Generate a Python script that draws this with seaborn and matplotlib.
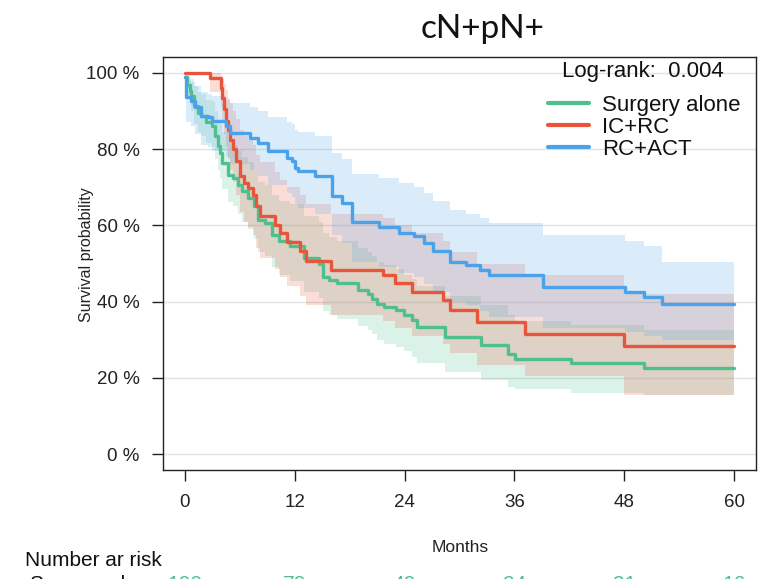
import matplotlib
matplotlib.use("Agg")
import matplotlib.pyplot as plt
import matplotlib.transforms as mtransforms
from matplotlib.lines import Line2D
from matplotlib.ticker import FuncFormatter
import numpy as np
import pandas as pd
import seaborn as sns

# ---------------- data (% survival) ----------------
groups = ["Surgery alone", "IC+RC", "RC+ACT"]
colors = ["#4fbf8e", "#e8553b", "#4aa3ea"]

surg_t = [0, 0.2, 0.5, 0.7, 1.0, 1.4, 1.8, 2.3, 2.9, 3.3, 3.6, 3.8, 4.0, 4.7, 5.3, 5.8,
          6.2, 6.9, 7.5, 8.0, 8.8, 9.5, 10.3, 11.5, 13.0, 14.7, 15.1, 15.7, 16.6, 18.9,
          19.95, 20.4, 21.0, 21.8, 23.1, 23.9, 24.8, 25.4, 28.4, 32.4, 35.3, 36.1, 42.2,
          50.2, 60]
surg_s = [98.9, 96.7, 95.3, 94.0, 91.4, 89.6, 88.7, 87.0, 86.1, 83.5, 80.8, 79.1, 76.4, 73.3,
          72.4, 70.7, 68.9, 67.2, 65.0, 61.5, 60.6, 57.5, 55.8, 54.6, 51.4, 50.0, 46.5, 45.6,
          44.8, 43.0, 42.1, 40.8, 39.5, 38.6, 37.7, 36.4, 35.1, 33.3, 30.7, 28.5, 26.3, 25.0,
          23.9, 22.6, 22.6]
surg_lo = [96.5, 93.5, 91.5, 90, 86.5, 84.5, 83.5, 81.5, 80.5, 77.5, 74.5, 72.5, 69.5, 66,
           65, 63, 61, 59, 56.5, 53, 52, 49, 47, 45.5, 42.5, 41, 37.5, 36.5, 35.5, 33.5,
           32.5, 31.5, 30, 29, 28, 27, 25.5, 24, 21.5, 19.5, 17.5, 17, 16, 15.5, 15.5]
surg_hi = [100, 99.5, 99, 98.5, 96.5, 95, 94.5, 93, 92.5, 90, 88, 86.5, 84.5, 82, 81, 79.5,
           78, 76.5, 74.5, 71.5, 70.5, 68, 66.5, 65.5, 62.5, 61, 58, 57, 56, 54, 53, 52,
           50.5, 49.5, 48.5, 47, 46, 44, 41.5, 39, 36.5, 35, 34, 32.5, 32.5]

icrc_t = [0, 2.7, 3.9, 4.1, 4.3, 4.5, 4.7, 4.9, 5.2, 5.6, 6.0, 6.4, 6.9, 7.4, 7.8, 8.2, 9.8,
          10.4, 11.2, 12.6, 13.2, 16.0, 21.6, 22.9, 24.8, 28.2, 29.0, 31.9, 37.2, 48.0, 60]
icrc_s = [100, 98.6, 96, 93.5, 90.5, 87.5, 85, 82.5, 80, 77, 73, 71, 69.8, 68, 65, 62.5, 60,
          58, 55.6, 53.2, 50.6, 48.3, 47, 44.8, 42.6, 40.4, 37.7, 34.6, 31.4, 28.3, 28.3]
icrc_lo = [100, 95, 91, 87.5, 84, 80.5, 77.5, 74.5, 71.5, 68, 63.5, 61, 59.5, 57.5, 54, 51.5,
           48.5, 46.5, 44, 41.5, 39, 36.5, 35, 33, 31, 29, 26.5, 23.5, 20.5, 15.5, 15.5]
icrc_hi = [100, 100, 99.5, 98.5, 97, 95.5, 93.5, 92, 90, 88, 85, 83.5, 82.5, 81, 78.5, 76.5,
           74, 72, 70, 68, 65.5, 63, 62, 60, 58, 56, 53, 50, 47, 42, 42]

rcact_t = [0, 0.1, 0.7, 1.1, 1.8, 2.5, 2.9, 4.5, 4.9, 7.1, 8.0, 9.1, 11.1, 11.7, 12.0, 12.4,
           14.2, 16.1, 17.2, 18.3, 21.2, 23.4, 25.0, 26.1, 27.1, 29.0, 30.7, 32.2, 33.2,
           39.1, 48.1, 50.2, 52.1, 60]
rcact_s = [98.9, 93.6, 92.7, 91.0, 88.7, 88.3, 87.4, 86.1, 84.3, 83.0, 81.7, 79.5, 77.8,
           76.9, 75.1, 74.2, 72.9, 67.6, 65.9, 61.0, 59.7, 58.0, 57.1, 55.3, 53.2, 50.5,
           49.6, 48.3, 47.0, 43.9, 42.6, 41.3, 39.5, 39.5]
rcact_lo = [96, 87, 86, 84, 81, 80.5, 79.5, 78, 76, 74.5, 73, 70.5, 68.5, 67.5, 65.5, 64.5,
            63, 57.5, 55.5, 50.5, 49, 47.5, 46.5, 44.5, 42.5, 40, 39, 37.5, 36, 33, 32,
            31, 30, 30]
rcact_hi = [100, 98, 97.5, 96.5, 95, 94.5, 94, 93, 92, 91, 90, 88.5, 87, 86.5, 85, 84.5,
            83.5, 79, 77.5, 73.5, 72.5, 71, 70, 68.5, 66.5, 64, 63, 62, 60.5, 57.5, 56,
            54.5, 50.5, 50.5]

x_ticks = [0, 12, 24, 36, 48, 60]
y_ticks = [0, 20, 40, 60, 80, 100]
risk_surg = ["100", "70", "40", "24", "21", "16"]

title_text = "cN+pN+"
logrank_text = "Log-rank:  0.004"

# ---------------- build table ----------------
series = [(surg_t, surg_s, surg_lo, surg_hi),
          (icrc_t, icrc_s, icrc_lo, icrc_hi),
          (rcact_t, rcact_s, rcact_lo, rcact_hi)]
frames = []
for g, (t, s, lo, hi) in zip(groups, series):
    frames.append(pd.DataFrame({"time": t, "surv": s, "lo": lo, "hi": hi, "group": g}))
df = pd.concat(frames, ignore_index=True)

# ---------------- style ----------------
sns.set_theme(style="white")
plt.rcParams["font.family"] = ["Liberation Sans", "DejaVu Sans"]

W, H = 767, 579
fig = plt.figure(figsize=(W / 100, H / 100), dpi=100)
L, R, T, B = 163, 756, 57, 470
ax = fig.add_axes([L / W, 1 - B / H, (R - L) / W, (B - T) / H])

# grid
for yv in y_ticks:
    ax.axhline(yv, color="#e2e2e2", lw=1.0, zorder=0)

# confidence bands
for g, c in zip(groups, colors):
    d = df[df["group"] == g]
    ax.fill_between(d["time"], d["lo"], d["hi"], step="post", color=c, alpha=0.2,
                    lw=0, zorder=1)

sns.lineplot(data=df, x="time", y="surv", hue="group", hue_order=groups,
             palette=colors, drawstyle="steps-post", lw=2.4, legend=False,
             estimator=None, sort=False, ax=ax, zorder=3)

ax.set_xlim(-2.4, 62.4)
ax.set_ylim(-4.16, 104.16)
ax.set_xticks(x_ticks)
ax.set_yticks(y_ticks)
ax.yaxis.set_major_formatter(FuncFormatter(lambda v, p: f"{v:.0f} %"))
ax.set_xlabel("")
ax.set_ylabel("")
for sp in ax.spines.values():
    sp.set_visible(True)
    sp.set_color("#222222")
    sp.set_linewidth(1.0)
ax.tick_params(axis="both", which="major", direction="out", length=8, width=1.0,
               color="#222222", labelsize=13.5, labelcolor="#222222",
               left=True, bottom=True)
ax.tick_params(axis="y", pad=9)
ax.tick_params(axis="x", pad=9)

# legend + log-rank
handles = [Line2D([0], [0], color=c, lw=3) for c in colors]
leg = ax.legend(handles, groups, loc="upper left",
                bbox_to_anchor=((548 - L) / (R - L), (B - 95) / (B - T)),
                frameon=False, fontsize=16, handlelength=1.85, handletextpad=0.6,
                labelspacing=0.05, borderpad=0, borderaxespad=0)
for txt in leg.get_texts():
    txt.set_color("#111111")
ax.text((562 - L) / (R - L), (B - 72) / (B - T), logrank_text, transform=ax.transAxes,
        fontsize=16, ha="left", va="center", color="#111111")

# titles / labels
fig.text(483 / W, 1 - 29 / H, title_text, fontsize=24, ha="center", va="center",
         color="#111111", family=["Lato", "DejaVu Sans"])
fig.text(86 / W, 1 - 255 / H, "Survival probability", rotation=90, fontsize=11.5,
         ha="center", va="center", color="#222222")
fig.text(460 / W, 1 - 548 / H, "Months", fontsize=12.5, ha="center", va="center",
         color="#222222")
fig.text(25 / W, 1 - 560 / H, "Number ar risk", fontsize=15, ha="left", va="center",
         color="#111111")
fig.text(30 / W, 1 - 584 / H, "Surgery alone", fontsize=15, ha="left", va="center",
         color="#111111")
blend = mtransforms.blended_transform_factory(ax.transData, fig.transFigure)
for xv, lab in zip(x_ticks, risk_surg):
    fig.text(xv, 1 - 584 / H, lab, transform=blend, fontsize=15, ha="center",
             va="center", color=colors[0])

fig.savefig("out.png", dpi=100)
